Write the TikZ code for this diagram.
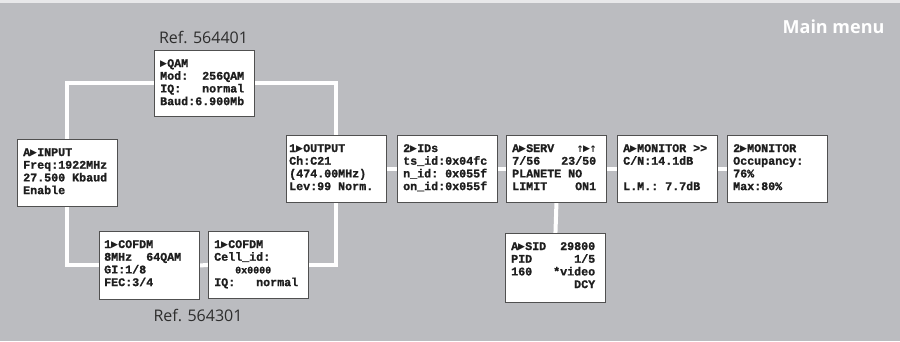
\documentclass[tikz,border=0pt]{standalone}
\usepackage{fontspec}
\setmainfont{Open Sans}
\newfontfamily\lcd{Liberation Mono}[BoldFeatures={FakeBold=1.2}]
\newfontfamily\sym{DejaVu Sans}
\definecolor{bg}{RGB}{187,188,192}
\definecolor{strip}{RGB}{232,232,234}
\definecolor{frame}{RGB}{80,80,80}
\definecolor{ink}{RGB}{30,30,30}
\definecolor{refink}{RGB}{45,45,45}
\newcommand\tri{\makebox[7pt][c]{\sym\fontsize{9}{9}\selectfont\raisebox{0.2pt}{▶}}}
\newcommand\upa{\makebox[6pt][c]{\sym\fontsize{9}{9}\selectfont ↑}}
\pgfdeclarelayer{back}
\pgfdeclarelayer{wires}
\pgfsetlayers{back,wires,main}
\tikzset{
  lcdbox/.style={draw=frame, line width=0.9pt, fill=white, minimum width=100pt,
    minimum height=67pt, inner sep=0pt, anchor=north west},
  lcdtext/.style={anchor=base west, inner sep=0pt, text=ink,
    font=\lcd\bfseries\fontsize{11.67}{12.7}\selectfont},
  wire/.style={draw=white, line width=4pt},
  reflabel/.style={anchor=base, text=refink, font=\fontsize{16}{16}\selectfont},
}
\newcommand\lcdlines[3]{%
  \node[lcdtext] (#1text) at ([shift={(#2,17)}]#1.north west) {\parbox[t]{84pt}{#3}};}
\begin{document}
\begin{tikzpicture}[x=1pt,y=-1pt]
\begin{pgfonlayer}{back}
  \fill[bg] (0,0) rectangle (900,341);
  \fill[strip] (0,0) rectangle (900,3);
\end{pgfonlayer}
\useasboundingbox (0,0) rectangle (900,341);

\node[anchor=base east, text=white, font=\bfseries\fontsize{18}{18}\selectfont] (title) at (888,33) {Main menu};
\node[reflabel] (ref1) at (203.5,43) {Ref. 564401};
\node[reflabel] (ref2) at (198,321.5) {Ref. 564301};

\node[lcdbox, minimum height=66pt] (qam) at (154,50) {};
\node[lcdbox] (input) at (17,139) {};
\node[lcdbox, minimum height=68pt] (cofdm1) at (99,231) {};
\node[lcdbox] (cofdm2) at (208,231) {};
\node[lcdbox] (output) at (286,135) {};
\node[lcdbox] (ids) at (397,135) {};
\node[lcdbox] (serv) at (506,135) {};
\node[lcdbox] (mon1) at (617,135) {};
\node[lcdbox] (mon2) at (727,135) {};
\node[lcdbox, minimum height=69pt] (sid) at (505,233) {};

\lcdlines{qam}{6}{\tri QAM\\ Mod:\hfill 256QAM\\ IQ:\hfill normal\\ Baud:6.900Mb}
\lcdlines{input}{6}{A\tri INPUT\\ Freq:1922MHz\\ 27.500~Kbaud\\ Enable}
\lcdlines{cofdm1}{5}{1\tri COFDM\\ 8MHz~~64QAM\\ GI:1/8\\ FEC:3/4}
\lcdlines{cofdm2}{6}{1\tri COFDM\\ Cell\_id:\\ \hspace*{21pt}{\fontsize{10}{12.7}\selectfont 0x0000}\\ IQ:~~~normal}
\lcdlines{output}{3}{1\tri OUTPUT\\ Ch:C21\\ (474.00MHz)\\ Lev:99~Norm.}
\lcdlines{ids}{6}{2\tri IDs\\ ts\_id:0x04fc\\ n\_id:~0x055f\\ on\_id:0x055f}
\lcdlines{serv}{6}{A\tri SERV\hfill\upa\tri\upa\\ 7/56\hfill 23/50\\ PLANETE~NO\\ LIMIT\hfill ON1}
\lcdlines{mon1}{6}{A\tri MONITOR~>{}>\\ C/N:14.1dB\\ \mbox{}\\ L.M.:~7.7dB}
\lcdlines{mon2}{6}{2\tri MONITOR\\ Occupancy:\\ 76\%\\ Max:80\%}
\lcdlines{sid}{6}{A\tri SID\hfill 29800\\ PID\hfill 1/5\\ 160\hfill *video\\ \mbox{}\hfill DCY}

\begin{pgfonlayer}{wires}
  \draw[wire] (input.north) |- (qam.west);
  \draw[wire] (qam.east) -| (output.north);
  \draw[wire] (input.south) |- (cofdm1.west);
  \draw[wire] (cofdm1.east) -- (cofdm2.west);
  \draw[wire] (cofdm2.east) -| (output.south);
  \draw[wire] (output.east) -- (ids.west);
  \draw[wire] (ids.east) -- (serv.west);
  \draw[wire] (serv.east) -- (mon1.west);
  \draw[wire] (mon1.east) -- (mon2.west);
  \draw[wire] (serv.south) -- (sid.north);
\end{pgfonlayer}
\end{tikzpicture}
\end{document}
